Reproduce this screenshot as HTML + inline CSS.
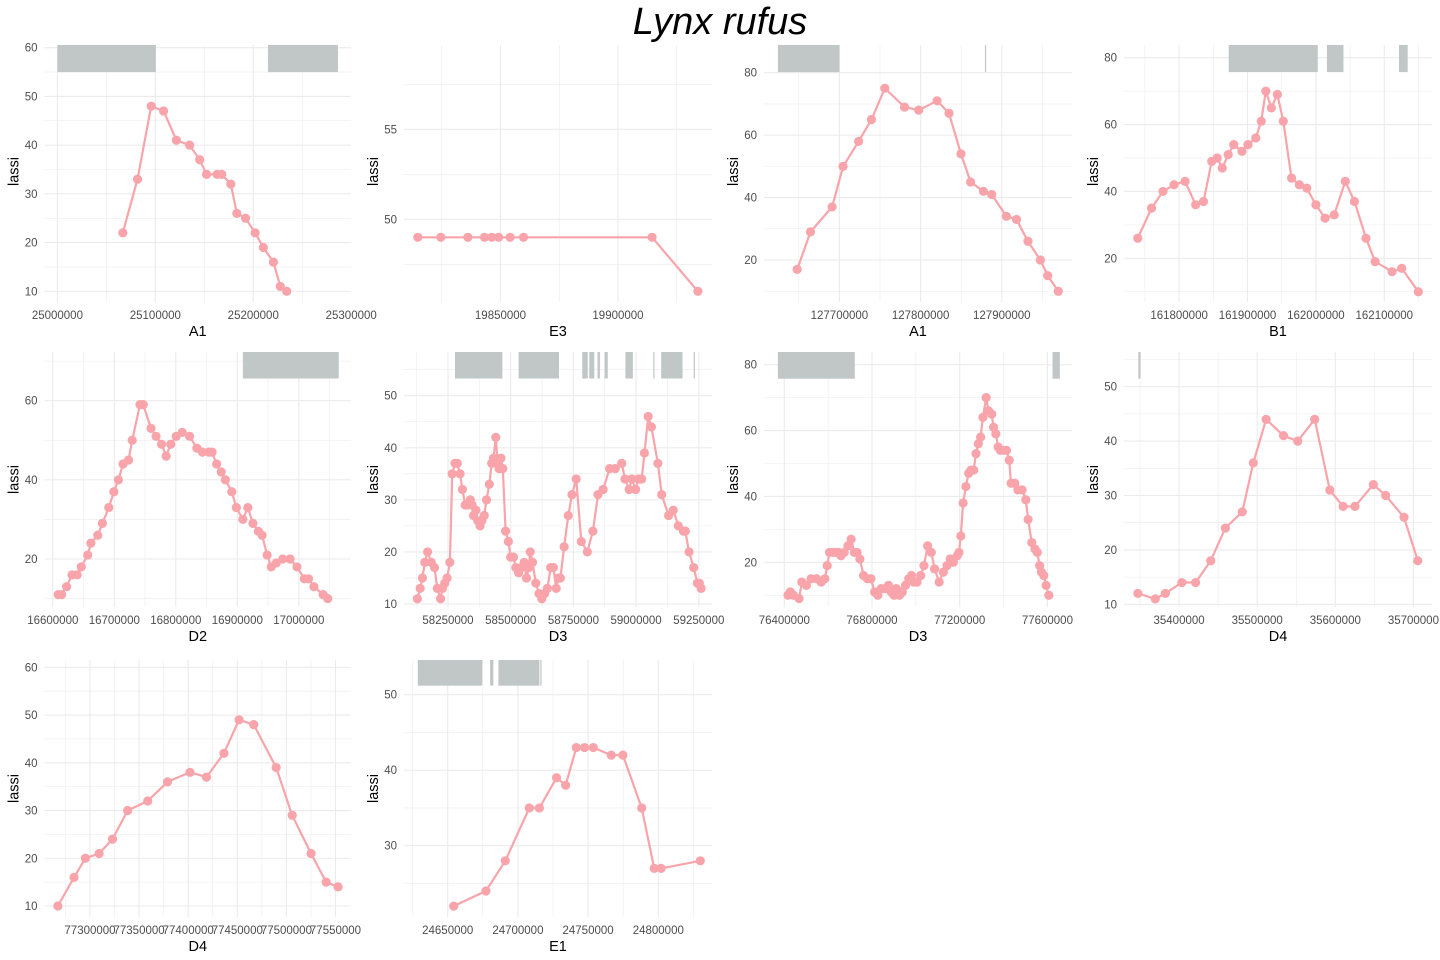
<!DOCTYPE html>
<html><head><meta charset="utf-8"><title>Lynx rufus</title>
<style>
html,body{margin:0;padding:0;background:#fff;}
svg{display:block;font-family:"Liberation Sans",Arial,sans-serif;}
</style></head>
<body>
<svg id="chart" width="1440" height="960" viewBox="0 0 1440 960" xmlns="http://www.w3.org/2000/svg">
<text x="720" y="34" text-anchor="middle" font-size="38" font-style="italic" fill="#000">Lynx rufus</text>
</svg>
<script>
// ---- data ----
const p1Label="A1";
const p1X=[25066800,25081800,25095800,25108400,25121500,25135000,25145300,25152300,25163100,25167800,25177100,25183200,25192100,25201900,25210300,25220600,25227600,25234100];
const p1Y=[22,33,48,47,41,40,37,34,34,34,32,26,25,22,19,16,11,10];
const p1Bars=[[25000000,25100500],[25215000,25286500]];
const p1Band=[55,60.6];
const p1XTicks=[25000000,25100000,25200000,25300000];
const p1YTicks=[10,20,30,40,50,60];

const p2Label="E3";
const p2X=[19814800,19824600,19836100,19843200,19846300,19849200,19854100,19859800,19914500,19934000];
const p2Y=[49,49,49,49,49,49,49,49,49,46];
const p2Bars=[];
const p2Band=[0,0];
const p2XTicks=[19850000,19900000];
const p2YTicks=[50,55];

const p3Label="A1";
const p3X=[127648000,127664400,127691000,127704500,127723700,127739500,127755900,127780200,127797700,127820300,127835000,127849700,127861600,127877400,127887600,127905600,127918100,127932200,127947500,127956500,127969500];
const p3Y=[17,29,37,50,58,65,75,69,68,71,67,54,45,42,41,34,33,26,20,15,10];
const p3Bars=[[127624300,127700000],[127879200,127880300]];
const p3Band=[80.2,89];
const p3XTicks=[127700000,127800000,127900000];
const p3YTicks=[20,40,60,80];

const p4Label="B1";
const p4X=[161739600,161759700,161776500,161792600,161808700,161824200,161835600,161847700,161855700,161863100,161871800,161879900,161891900,161900700,161912100,161920100,161926800,161934900,161943600,161952300,161964400,161975800,161986600,162000000,162013400,162026800,162043000,162056400,162073200,162086600,162111400,162125500,162149700];
const p4Y=[26,35,40,42,43,36,37,49,50,47,51,54,52,54,56,61,70,65,69,61,44,42,41,36,32,33,43,37,26,19,16,17,10];
const p4Bars=[[161872500,162002700],[162016100,162040300],[162121500,162134200]];
const p4Band=[75.7,84];
const p4XTicks=[161800000,161900000,162000000,162100000];
const p4YTicks=[20,40,60,80];

const p5Label="D2";
const p5X=[16609000,16614200,16622400,16631300,16639600,16646300,16656700,16661900,16673100,16680600,16691000,16699300,16706700,16714200,16723100,16729100,16741800,16747000,16759700,16767900,16776900,16784300,16791800,16800700,16810400,16822400,16834300,16843300,16853700,16859000,16866400,16873900,16880600,16891000,16898500,16909000,16917200,16925400,16934300,16940300,16948500,16955200,16963400,16973900,16985800,16997000,17009000,17015700,17024600,17039600,17047000];
const p5Y=[11,11,13,16,16,18,21,24,26,29,33,37,40,44,45,50,59,59,53,51,49,46,49,51,52,51,48,47,47,47,44,42,40,37,33,30,33,29,27,26,21,18,19,20,20,18,15,15,13,11,10];
const p5Bars=[[16909000,17064900]];
const p5Band=[65.6,73];
const p5XTicks=[16600000,16700000,16800000,16900000,17000000];
const p5YTicks=[20,40,60];

const p6Label="D3";
const p6X=[58127800,58138900,58148100,58157400,58168500,58183300,58196300,58207400,58220400,58227800,58237000,58246300,58257400,58266700,58277800,58287000,58298100,58307400,58318500,58327800,58338900,58346300,58351900,58361100,58368500,58377800,58385200,58394400,58403700,58414800,58424100,58431500,58440700,58448100,58453700,58461100,58468500,58479600,58490700,58500000,58511100,58520400,58531500,58542600,58553700,58563000,58572200,58577800,58587000,58600000,58613000,58624100,58635200,58646300,58659300,58670400,58681500,58690700,58698100,58713000,58729600,58744400,58761100,58781500,58805600,58827800,58848100,58868500,58894400,58916700,58942600,58955600,58972200,58983300,58998100,59009300,59022200,59033300,59048100,59061100,59087000,59101900,59129600,59148100,59168500,59188900,59196300,59211100,59229600,59244400,59251900,59259300];
const p6Y=[11,13,15,18,20,18,17,13,11,13,14,15,18,35,37,37,35,32,29,29,30,29,27,28,26,25,26,27,30,33,37,38,42,37,36,38,36,24,22,19,19,17,16,17,18,15,17,20,18,14,12,11,12,13,17,17,13,15,15,21,27,31,34,22,20,24,31,32,36,36,37,34,32,34,32,34,34,39,46,44,37,31,27,28,25,24,24,20,17,14,14,13];
const p6Bars=[[58277800,58466700],[58531500,58692600],[58785200,58807400],[58813000,58833300],[58846300,58855600],[58874100,58887000],[58957400,58987000],[59068500,59072200],[59100000,59185200],[59229600,59233300]];
const p6Band=[53.3,59];
const p6XTicks=[58250000,58500000,58750000,59000000,59250000];
const p6YTicks=[10,20,30,40,50];

const p7Label="D3";
const p7X=[76416800,76427300,76442000,76467300,76479900,76500900,76521900,76547100,76568200,76585000,76595500,76606000,76620700,76635400,76648000,76658500,76673300,76690100,76704800,76719500,76732100,76744700,76761500,76778400,76795200,76812000,76826700,76841400,76858200,76875100,76887700,76900300,76910800,76925500,76938100,76952800,76967500,76980200,76990700,77005400,77022200,77036900,77053700,77070500,77085300,77106300,77125200,77142000,77156700,77171400,77188300,77196700,77205100,77215600,77228200,77240800,77251300,77263900,77274400,77284900,77295500,77306000,77320700,77331200,77345900,77354300,77364800,77375300,77385800,77400600,77413200,77425800,77434200,77451000,77465700,77484600,77501400,77512000,77528800,77543500,77554000,77564500,77572900,77583400,77593900,77606500];
const p7Y=[10,11,10,9,14,13,15,15,14,15,19,23,23,23,23,22,23,25,27,23,23,21,16,15,15,11,10,12,12,13,11,10,12,10,11,13,15,16,14,14,16,19,25,23,18,14,17,19,21,20,22,23,28,38,43,47,48,48,53,56,58,64,70,66,65,61,59,55,54,54,54,51,44,44,42,42,39,33,26,24,23,19,17,16,13,10];
const p7Bars=[[76370600,76721600],[77623400,77657000]];
const p7Band=[75.75,84.5];
const p7XTicks=[76400000,76800000,77200000,77600000];
const p7YTicks=[20,40,60,80];

const p8Label="D4";
const p8X=[35347200,35369500,35382400,35403500,35421100,35440500,35459200,35480900,35495000,35511400,35533700,35551900,35573600,35593000,35610000,35625200,35648700,35664500,35688000,35705600];
const p8Y=[12,11,12,14,14,18,24,27,36,44,41,40,44,31,28,28,32,30,26,18];
const p8Bars=[[35347800,35350700]];
const p8Band=[51.5,57];
const p8XTicks=[35400000,35500000,35600000,35700000];
const p8YTicks=[10,20,30,40,50];

const p9Label="D4";
const p9X=[77267300,77283700,77295300,77309300,77322900,77338300,77358800,77378900,77401800,77418600,77436400,77451800,77466700,77489600,77505900,77525100,77540500,77552600];
const p9Y=[10,16,20,21,24,30,32,36,38,37,42,49,48,39,29,21,15,14];
const p9Bars=[];
const p9Band=[0,0];
const p9XTicks=[77300000,77350000,77400000,77450000,77500000,77550000];
const p9YTicks=[10,20,30,40,50,60];

const p10Label="E1";
const p10X=[24654300,24677200,24691000,24708100,24715300,24727500,24734000,24741600,24747500,24753700,24766500,24774800,24788200,24797100,24802000,24829900];
const p10Y=[22,24,28,35,35,39,38,43,43,43,42,42,35,27,27,28];
const p10Bars=[[24628700,24674600],[24680200,24682500],[24686100,24715300],[24716000,24716600]];
const p10Band=[51.2,55];
const p10XTicks=[24650000,24700000,24750000,24800000];
const p10YTicks=[30,40,50];

// ---- layout (axis calibration: value/pixel pairs) ----
const panels=[
 {id:1,L:44.5,R:351,T:45,B:302,xc:[25000000,57.4,25300000,351.2],yc:[60,47.7,10,291.3],X:p1X,Y:p1Y,bars:p1Bars,band:p1Band,xt:p1XTicks,yt:p1YTicks,lab:p1Label},
 {id:2,L:404,R:712,T:45,B:302,xc:[19850000,500.5,19900000,618],yc:[55,129.3,50,219.3],X:p2X,Y:p2Y,bars:p2Bars,band:p2Band,xt:p2XTicks,yt:p2YTicks,lab:p2Label},
 {id:3,L:764,R:1072,T:45,B:302,xc:[127700000,839.4,127800000,920.6],yc:[80,72.7,20,260],X:p3X,Y:p3Y,bars:p3Bars,band:p3Band,xt:p3XTicks,yt:p3YTicks,lab:p3Label},
 {id:4,L:1124,R:1432,T:45,B:302,xc:[161800000,1179.1,161900000,1247.5],yc:[80,57.7,20,258.3],X:p4X,Y:p4Y,bars:p4Bars,band:p4Band,xt:p4XTicks,yt:p4YTicks,lab:p4Label},
 {id:5,L:44.5,R:351,T:352,B:607,xc:[16600000,52.8,16700000,114.3],yc:[60,400.7,20,559],X:p5X,Y:p5Y,bars:p5Bars,band:p5Band,xt:p5XTicks,yt:p5YTicks,lab:p5Label},
 {id:6,L:404,R:712,T:352,B:607,xc:[58250000,448,58500000,510.7],yc:[50,395.7,10,604],X:p6X,Y:p6Y,bars:p6Bars,band:p6Band,xt:p6XTicks,yt:p6YTicks,lab:p6Label},
 {id:7,L:764,R:1072,T:352,B:607,xc:[76400000,784.3,76800000,872],yc:[80,364.7,20,562.3],X:p7X,Y:p7Y,bars:p7Bars,band:p7Band,xt:p7XTicks,yt:p7YTicks,lab:p7Label},
 {id:8,L:1124,R:1432,T:352,B:607,xc:[35400000,1179.1,35500000,1257.2],yc:[50,386.7,10,604.3],X:p8X,Y:p8Y,bars:p8Bars,band:p8Band,xt:p8XTicks,yt:p8YTicks,lab:p8Label},
 {id:9,L:44.5,R:351,T:660,B:917,xc:[77300000,90,77400000,188.2],yc:[60,667.3,10,906],X:p9X,Y:p9Y,bars:p9Bars,band:p9Band,xt:p9XTicks,yt:p9YTicks,lab:p9Label},
 {id:10,L:404,R:712,T:660,B:917,xc:[24650000,447.7,24700000,517.9],yc:[50,694.7,30,845.7],X:p10X,Y:p10Y,bars:p10Bars,band:p10Band,xt:p10XTicks,yt:p10YTicks,lab:p10Label}
];
const NS="http://www.w3.org/2000/svg";
const svg=document.getElementById('chart');
function mk(tag,attrs,parent){const e=document.createElementNS(NS,tag);for(const k in attrs)e.setAttribute(k,attrs[k]);(parent||svg).appendChild(e);return e;}
function lin(c){const k=(c[3]-c[1])/(c[2]-c[0]);return v=>c[1]+(v-c[0])*k;}
function inv(c){const k=(c[2]-c[0])/(c[3]-c[1]);return p=>c[0]+(p-c[1])*k;}

panels.forEach(p=>{
  const g=mk('g',{});
  
  
  const sx=lin(p.xc), sy=lin(p.yc), ix=inv(p.xc), iy=inv(p.yc);
  const clipId='clip'+p.id;
  const cp=mk('clipPath',{id:clipId},g);
  mk('rect',{x:p.L,y:p.T,width:p.R-p.L,height:p.B-p.T},cp);
  const grid=mk('g',{},g);
  
  
  // minor + major x
  const xs=p.xt[1]-p.xt[0];
  const vMin=ix(p.L), vMax=ix(p.R);
  for(let v=p.xt[0]-Math.ceil((p.xt[0]-vMin)/xs)*xs; v<=vMax+1; v+=xs/2){
    const px=sx(v); if(px<p.L-0.5||px>p.R+0.5) continue;
    const major=p.xt.some(t=>Math.abs(t-v)<1e-3)||Math.abs(((v-p.xt[0])/xs)%1)<1e-6;
    const ln=mk('line',{x1:px,x2:px,y1:p.T,y2:p.B,stroke:'#ebebeb','stroke-width':major?1.1:0.55},grid);
    
    
  }
  const ys=p.yt[1]-p.yt[0];
  const wMin=iy(p.B), wMax=iy(p.T);
  for(let v=p.yt[0]-Math.ceil((p.yt[0]-wMin)/ys)*ys; v<=wMax+1e-6; v+=ys/2){
    const py=sy(v); if(py<p.T-0.5||py>p.B+0.5) continue;
    const major=Math.abs(((v-p.yt[0])/ys)-Math.round((v-p.yt[0])/ys))<1e-6;
    const ln=mk('line',{x1:p.L,x2:p.R,y1:py,y2:py,stroke:'#ebebeb','stroke-width':major?1.1:0.55},grid);
    
    
  }
  // bars (gaps)
  p.bars.forEach(b=>{
    const x1=sx(b[0]), x2=sx(b[1]);
    const y1=Math.max(sy(p.band[1]),p.T), y2=sy(p.band[0]);
    const r=mk('rect',{x:x1,y:y1,width:Math.max(x2-x1,1.2),height:y2-y1,fill:'#c1c6c6','clip-path':'url(#'+clipId+')'},g);
    
    
  });
  // line
  const pts=p.X.map((x,i)=>sx(x).toFixed(1)+','+sy(p.Y[i]).toFixed(1)).join(' ');
  const pl=mk('polyline',{points:pts,fill:'none',stroke:'#f8a4aa','stroke-width':2.2,'stroke-linejoin':'round'},g);
  
  
  p.X.forEach((x,i)=>{
    const c=mk('circle',{cx:sx(x),cy:sy(p.Y[i]),r:4.6,fill:'#f8a4aa'},g);
    
    
  });
  // tick labels
  p.xt.forEach(t=>{
    const tx=mk('text',{x:sx(t),y:p.B+17,'text-anchor':'middle','font-size':11.5,fill:'#4d4d4d'},g);
    tx.textContent=String(t);
    
    
  });
  p.yt.forEach(t=>{
    const ty=mk('text',{x:p.L-7,y:sy(t)+4,'text-anchor':'end','font-size':11.5,fill:'#4d4d4d'},g);
    ty.textContent=String(t);
    
    
  });
  const xt=mk('text',{x:(p.L+p.R)/2,y:p.B+34,'text-anchor':'middle','font-size':14.5,fill:'#000'},g);
  xt.textContent=p.lab;
  
  
  const yy=(p.T+p.B)/2+(p.id<=4?-2:0);
  const yt=mk('text',{x:p.L-26,y:yy,'text-anchor':'middle','font-size':14.5,fill:'#000',transform:'rotate(-90 '+(p.L-26)+' '+yy+')'},g);
  yt.textContent='lassi';
  
  
});
</script>
</body></html>
